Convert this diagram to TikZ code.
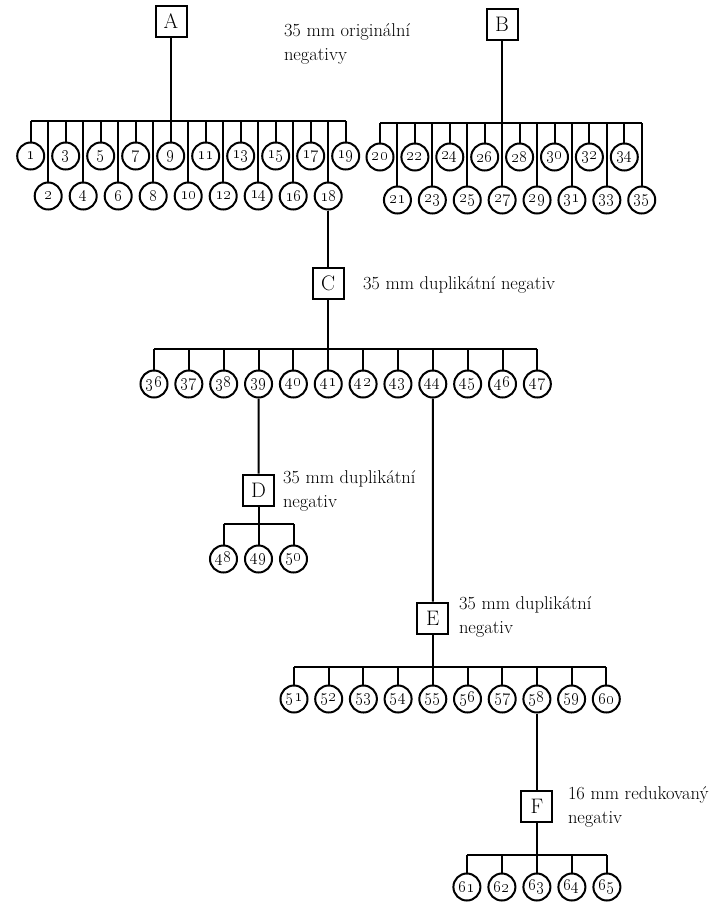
\documentclass[tikz,border=0pt]{standalone}
\begin{document}
\begin{tikzpicture}[x=1pt, y=-1pt, line width=2pt,
    master/.style={draw, line width=2pt, minimum size=31pt, inner sep=0pt, font=\fontsize{21}{21}\selectfont},
    roll/.style={circle, draw, line width=2pt, minimum size=27pt, inner sep=0pt, font=\fontsize{19}{19}\selectfont},
    desc/.style={anchor=west, align=left, inner sep=0pt, font=\fontsize{18.5}{24}\selectfont}]
        \useasboundingbox (0,0) rectangle (719,906);
        \node[master] (A) at (171,21) {A};
        \node[master] (B) at (502,24) {B};
        \node[desc] (tA) at (283,44) {35 mm originální\\negativy};
        \coordinate (busA) at (171,121);
        \coordinate (busB) at (502,123);
        \foreach \i in {1,...,19} {
            \pgfmathsetmacro\xx{30.7+(\i-1)*17.5}
            \ifodd\i \def\yy{156}\else \def\yy{196}\fi
            \node[roll] (n\i) at (\xx,\yy) {\oldstylenums{\i}};
            \draw (n\i) -- (n\i |- busA);
        }
        \foreach \i in {20,...,35} {
            \pgfmathsetmacro\xx{380+(\i-20)*17.45}
            \ifodd\i \def\yy{200}\else \def\yy{157}\fi
            \node[roll] (n\i) at (\xx,\yy) {\oldstylenums{\i}};
            \draw (n\i) -- (n\i |- busB);
        }
        \draw (n1 |- busA) -- (n19 |- busA);
        \draw (n20 |- busB) -- (n35 |- busB);
        \draw (A) -- (busA);
        \draw (B) -- (busB);

        \node[master] (C) at (328.2,283) {C};
        \node[desc] (tC) at (362,284.5) {35 mm duplikátní negativ};
        \draw (n18) -- (C);
        \coordinate (busC) at (328.2,349);
        \foreach \i in {36,...,47} {
            \node[roll] (n\i) at (154+\i*34.85-36*34.85,384) {\oldstylenums{\i}};
            \draw (n\i) -- (n\i |- busC);
        }
        \draw (n36 |- busC) -- (n47 |- busC);
        \draw (C) -- (busC);

        \node[master] (D) at (258.5,490) {D};
        \node[desc] (tD) at (282,491) {35 mm duplikátní\\negativ};
        \draw (n39) -- (D);
        \coordinate (busD) at (258.5,524);
        \foreach \i in {48,49,50} {
            \node[roll] (n\i) at (258.5+\i*35-49*35,559) {\oldstylenums{\i}};
            \draw (n\i) -- (n\i |- busD);
        }
        \draw (n48 |- busD) -- (n50 |- busD);
        \draw (D) -- (busD);

        \node[master] (E) at (432.8,618) {E};
        \node[desc] (tE) at (458,617) {35 mm duplikátní\\negativ};
        \draw (n44) -- (E);
        \coordinate (busE) at (432.8,667);
        \foreach \i in {51,...,60} {
            \node[roll] (n\i) at (432.8+\i*34.7-55*34.7,699) {\oldstylenums{\i}};
            \draw (n\i) -- (n\i |- busE);
        }
        \draw (n51 |- busE) -- (n60 |- busE);
        \draw (E) -- (busE);

        \node[master] (F) at (n58 |- 0,806) {F};
        \node[desc] (tF) at (567,807) {16 mm redukovaný\\negativ};
        \draw (n58) -- (F);
        \coordinate (busF) at (n58 |- 0,855);
        \foreach \i in {61,...,65} {
            \node[roll] (n\i) at ([xshift=\i*35-63*35] F |- 0,887) {\oldstylenums{\i}};
            \draw (n\i) -- (n\i |- busF);
        }
        \draw (n61 |- busF) -- (n65 |- busF);
        \draw (F) -- (busF);
    \end{tikzpicture}
\end{document}
